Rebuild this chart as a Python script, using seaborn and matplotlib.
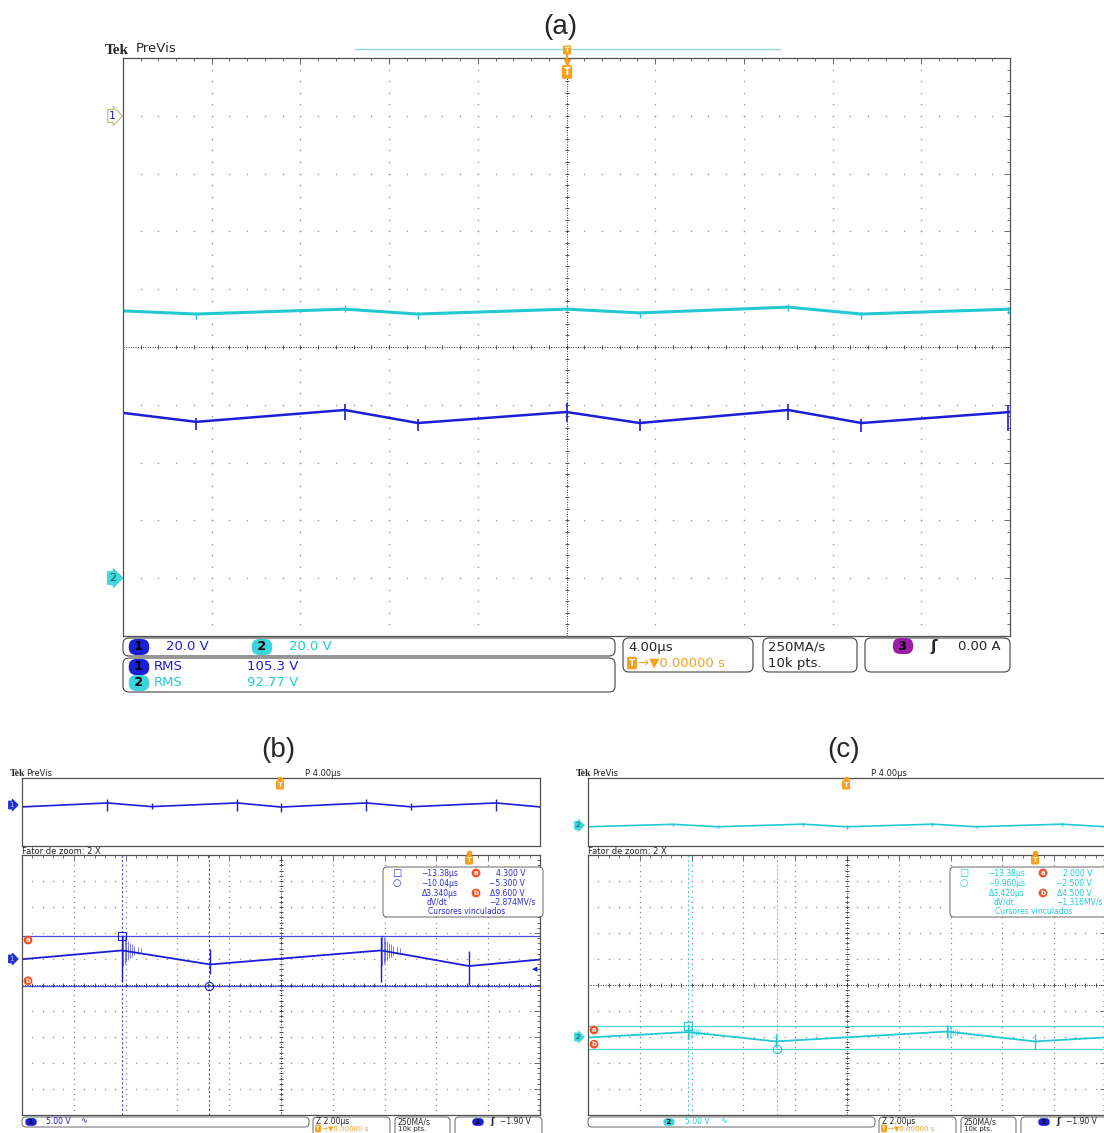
import numpy as np
import pandas as pd
import seaborn as sns
import matplotlib.pyplot as plt
from matplotlib.patches import FancyBboxPatch
from matplotlib.lines import Line2D
from matplotlib.ticker import FixedLocator

sns.set_style('white')
plt.rcParams['font.family'] = ['DejaVu Sans']

W, H = 1104, 1133

# ---------------- (a) 4.00us/div, 20 V/div ----------------
a_t = [-20.0, -16.7, -10.0, -6.7, 0.0, 3.3, 10.0, 13.3, 20.0]
a_ch1 = [-102.8, -105.9, -101.8, -106.3, -102.5, -106.3, -101.8, -106.3, -102.5]
a_ch2 = [92.5, 91.4, 93.1, 91.4, 93.1, 91.8, 93.8, 91.4, 93.1]
a_spk_t = [-16.7, -10.0, -6.7, 0.0, 3.3, 10.0, 13.3, 19.9]
a_spk1_top = [-104.5, -99.7, -105.0, -99.5, -105.0, -99.7, -105.0, -100.0]
a_spk1_bot = [-108.7, -105.3, -109.0, -106.0, -109.0, -105.3, -109.3, -109.0]
a_spk2_top = [92.0, 94.5, 92.0, 94.5, 92.5, 95.0, 92.0, 94.0]
a_spk2_bot = [89.8, 92.0, 89.8, 92.0, 90.0, 92.5, 89.8, 91.5]
a_off1, a_off2 = 4.0, -4.0      # ground markers (div)
a_scale = 20.0

# ---------------- (b) ch1 and (c) ch2, 5.00 V/div, zoom 2.00us/div ----------------
zoom_tc = -7.26                  # centre of the zoom window (us)
b_t = [-20.0, -13.4, -10.0, -3.4, 0.0, 6.6, 10.0, 16.6, 20.0]
b_ch1 = [-1.4, 1.5, -1.2, 1.5, -1.5, 1.5, -1.3, 1.5, -1.4]
b_spk_t = [-13.4, -10.0, -3.4, 0.0, 6.6, 10.0, 16.6]
b_spk_top = [4.3, 1.7, 4.1, 1.3, 4.2, 1.5, 4.2]
b_spk_bot = [-4.6, -3.1, -4.6, -5.2, -4.5, -3.5, -4.5]
b_ring_dt = [0.05, 0.1, 0.16, 0.22, 0.3, 0.38, 0.48, 0.6, 0.75]
b_ring_amp = [3.0, 2.6, 2.2, 1.8, 1.5, 1.2, 0.9, 0.6, 0.4]
b_off = 1.03
b_cur_t = [-13.38, -10.04]
b_cur_v = [4.3, -5.3]

c_ch2 = [-1.0, 0.8, -1.0, 0.9, -1.0, 0.9, -1.0, 0.9, -1.0]
c_spk_top = [2.1, 0.4, 2.1, 0.5, 2.0, 0.4, 2.0]
c_spk_bot = [-0.6, -2.1, -0.4, -2.4, -0.5, -2.0, -0.5]
c_ring_amp = [1.3, 1.1, 0.9, 0.75, 0.6, 0.5, 0.4, 0.3, 0.2]
c_off = -1.97
c_cur_t = [-13.38, -9.96]
c_cur_v = [2.0, -2.5]
bc_scale = 5.0

b_readout = [['−13.38µs', '4.300 V'], ['−10.04µs', '−5.300 V'], ['Δ3.340µs', 'Δ9.600 V'], ['dV/dt', '−2.874MV/s']]
c_readout = [['−13.38µs', '2.000 V'], ['−9.960µs', '−2.500 V'], ['Δ3.420µs', 'Δ4.500 V'], ['dV/dt', '−1.316MV/s']]

BLUE = '#1c1ed6'
CYAN = '#22c8d2'
CYAN_T = '#20ccd6'
ORANGE = '#f5a01e'
RED_OR = '#f0522a'
GRIDC = '#8c8c8c'
FRAME = '#505050'

fig = plt.figure(figsize=(W / 100, H / 100), dpi=100)


def fx(x):
    return x / W


def fy(y):
    return 1 - y / H


def ftext(x, y, s, **kw):
    kw.setdefault('va', 'center')
    return fig.text(fx(x), fy(y), s, **kw)


def rbox(x0, y0, x1, y1, r=6, ec='#444444', lw=0.8, fc='white'):
    p = FancyBboxPatch((x0 / 100, (H - y1) / 100), (x1 - x0) / 100, (y1 - y0) / 100,
                       boxstyle=f'round,pad=0,rounding_size={r / 100}',
                       transform=fig.dpi_scale_trans, fc=fc, ec=ec, lw=lw, zorder=2)
    fig.add_artist(p)


def pill(x, y, s, fc, fs, tc='black'):
    ftext(x, y, s, ha='center', fontsize=fs, color=tc, fontweight='bold', zorder=4,
          bbox=dict(boxstyle='round,pad=0.12,rounding_size=0.6', fc=fc, ec='none'))


def ch_marker(x, y, s, fc, tc, ec, fs):
    ftext(x, y, s, ha='right', fontsize=fs, color=tc, zorder=4,
          bbox=dict(boxstyle='rarrow,pad=0.12', fc=fc, ec=ec, lw=0.8))


def trig(x, y, fs):
    ftext(x, y, 'T', ha='center', fontsize=fs, color='white', fontweight='bold', zorder=4,
          bbox=dict(boxstyle='round,pad=0.12', fc=ORANGE, ec=ORANGE))


def scope_axes(x0, y0, x1, y1, xlim, grid=True):
    ax = fig.add_axes([fx(x0), fy(y1), (x1 - x0) / W, (y1 - y0) / H])
    ax.set_xlim(xlim)
    ax.set_ylim(-5, 5)
    for s in ax.spines.values():
        s.set_color(FRAME)
        s.set_linewidth(0.9)
    ax.set_xticklabels([])
    ax.set_yticklabels([])
    if not grid:
        ax.set_xticks([])
        ax.set_yticks([])
        return ax
    xmaj = np.linspace(xlim[0], xlim[1], 11)
    xmin = np.linspace(xlim[0], xlim[1], 51)
    ymaj = np.linspace(-5, 5, 11)
    ymin = np.linspace(-5, 5, 51)
    ax.xaxis.set_major_locator(FixedLocator(xmaj))
    ax.xaxis.set_minor_locator(FixedLocator(xmin))
    ax.yaxis.set_major_locator(FixedLocator(ymaj))
    ax.yaxis.set_minor_locator(FixedLocator(ymin))
    ax.tick_params(which='both', direction='in', top=True, right=True,
                   color=FRAME, width=0.6, labelbottom=False, labelleft=False)
    ax.tick_params(which='major', length=4)
    ax.tick_params(which='minor', length=2.5)
    xc = xmaj[5]
    for xg in xmaj[1:-1]:
        if xg == xc:
            continue
        ax.plot([xg] * 49, ymin[1:-1], ls='none', marker='s', ms=0.9, mew=0, color=GRIDC)
    for yg in ymaj[1:-1]:
        if yg == 0:
            continue
        ax.plot(xmin[1:-1], [yg] * 49, ls='none', marker='s', ms=0.9, mew=0, color=GRIDC)
    ax.axvline(xc, color='#333333', lw=0.7, ls=(0, (1, 1.5)))
    ax.axhline(0, color='#333333', lw=0.7, ls=(0, (1, 1.5)))
    ax.plot(xmin[1:-1], [0] * 49, ls='none', marker='|', ms=3.5, mew=0.6, color='#333333')
    ax.plot([xc] * 49, ymin[1:-1], ls='none', marker='_', ms=3.5, mew=0.6, color='#333333')
    return ax


def trace(ax, t, v, scale, off, color, lw):
    df = pd.DataFrame({'t': t, 'y': np.asarray(v) / scale + off})
    sns.lineplot(data=df, x='t', y='y', ax=ax, color=color, lw=lw,
                 estimator=None, sort=False, legend=False)
    ax.set_xlabel('')
    ax.set_ylabel('')


def spikes(ax, t, top, bot, scale, off, color, lw=1.0):
    ax.vlines(t, np.asarray(bot) / scale + off, np.asarray(top) / scale + off, color=color, lw=lw)


def ringing(ax, peaks, base, amps, scale, off, color):
    for p in peaks:
        for dt, a in zip(b_ring_dt, amps):
            ax.vlines(p + dt, (base - a) / scale + off, (base + a) / scale + off,
                      color=color, lw=0.5, alpha=0.8)


# ================= (a) =================
ftext(560, 27, '(a)', ha='center', fontsize=20, family='Liberation Sans')
ftext(105, 50, 'Tek', fontsize=11, fontweight='bold', family='Liberation Serif')
ftext(136, 49, 'PreVis', fontsize=9.5)
fig.add_artist(Line2D([fx(355), fx(780)], [fy(49), fy(49)], transform=fig.transFigure,
                      color='#8fdadd', lw=1.0))

ax_a = scope_axes(123, 58, 1010, 636, (-20, 20))
trace(ax_a, a_t, a_ch2, a_scale, a_off2, CYAN, 2.2)
spikes(ax_a, a_spk_t, a_spk2_top, a_spk2_bot, a_scale, a_off2, CYAN)
trace(ax_a, a_t, a_ch1, a_scale, a_off1, BLUE, 1.8)
spikes(ax_a, a_spk_t, a_spk1_top, a_spk1_bot, a_scale, a_off1, BLUE, 1.2)

fig.add_artist(Line2D([fx(567), fx(567)], [fy(54), fy(62)], transform=fig.transFigure,
                      color=ORANGE, lw=1.5, marker='v', markevery=[1], ms=5))
trig(567, 50, 5)
trig(567, 72, 7)
ch_marker(116, 116, '1', 'white', BLUE, '#c0b868', 8)
ch_marker(116, 578, '2', '#3fd6dc', '#0a5a60', '#3fd6dc', 8)

# info boxes (a)
rbox(123, 638, 615, 656)
pill(139, 647, ' 1 ', BLUE, 9)
ftext(166, 647, '20.0 V', fontsize=9.5, color=BLUE)
pill(262, 647, ' 2 ', '#3cd4dc', 9)
ftext(289, 647, '20.0 V', fontsize=9.5, color=CYAN_T)
rbox(123, 658, 615, 692)
pill(139, 667, ' 1 ', BLUE, 9)
ftext(154, 667, 'RMS', fontsize=9.5, color=BLUE)
ftext(247, 667, '105.3 V', fontsize=9.5, color=BLUE)
pill(139, 683, ' 2 ', '#3cd4dc', 9)
ftext(154, 683, 'RMS', fontsize=9.5, color=CYAN_T)
ftext(247, 683, '92.77 V', fontsize=9.5, color=CYAN_T)
rbox(623, 638, 753, 672)
ftext(628, 647, '4.00µs', fontsize=9.5)
trig(632, 663, 6.5)
ftext(638, 663, '→▼0.00000 s', fontsize=9.5, color=ORANGE)
rbox(763, 638, 857, 672)
ftext(768, 647, '250MA/s', fontsize=9.5)
ftext(768, 663, '10k pts.', fontsize=9.5)
rbox(865, 638, 1010, 672)
pill(903, 646, ' 3 ', '#9c1ca8', 9)
ftext(930, 647, 'ʃ', fontsize=11, fontweight='bold')
ftext(958, 647, '0.00 A', fontsize=9.5)


# ================= (b) and (c) =================
def zoom_panel(x0, label, ch, color, txtc, vals, off, spk_top, spk_bot, ring_amp,
               cur_t, cur_v, readout, chfc, chtc, rd_x):
    x1 = x0 + 518
    ftext(x0 + 256, 750, label, ha='center', fontsize=20, family='Liberation Sans')
    ftext(x0 - 12, 773, 'Tek', fontsize=7, fontweight='bold', family='Liberation Serif')
    ftext(x0 + 4, 773, 'PreVis', fontsize=6)
    ftext(x0 + 283, 773, 'P 4.00µs', fontsize=6)
    ftext(x0, 851, 'Fator de zoom: 2 X', fontsize=6)

    ov = scope_axes(x0, 778, x1, 846, (-20, 20), grid=False)
    trace(ov, b_t, vals, bc_scale, off, color, 1.2)
    spikes(ov, b_spk_t, spk_top, spk_bot, bc_scale, off, color, 1.0)
    fig.add_artist(Line2D([fx(x0 + 258)], [fy(779)], transform=fig.transFigure,
                          color=ORANGE, marker='o', ms=3, ls='none'))
    trig(x0 + 258, 785, 5)
    ch_marker(x0 - 8, 812 - off * 6.8, ch, chfc, chtc, chfc, 5)

    ax = scope_axes(x0, 855, x1, 1115, (zoom_tc - 10, zoom_tc + 10))
    trace(ax, b_t, vals, bc_scale, off, color, 1.3)
    spikes(ax, b_spk_t, spk_top, spk_bot, bc_scale, off, color, 1.0)
    ringing(ax, b_spk_t[::2], vals[1], ring_amp, bc_scale, off, color)
    for t in cur_t:
        ax.axvline(t, color=color, lw=0.8, ls=(0, (2, 2)), alpha=0.8)
    ya = cur_v[0] / bc_scale + off
    yb = cur_v[1] / bc_scale + off
    ax.axhline(ya, color=color, lw=0.9, alpha=0.8)
    ax.axhline(yb, color=color, lw=0.9, alpha=0.8)
    ax.plot([cur_t[0]], [ya], marker='s', ms=6, mfc='none', mec=color, mew=0.8, ls='none')
    ax.plot([cur_t[1]], [yb], marker='o', ms=6, mfc='none', mec=color, mew=0.8, ls='none')
    for yv, s, dy in [(ya, 'a', -3), (yb, 'b', 3.6)]:
        ax.annotate(s, xy=(6 / 518, yv), xycoords=('axes fraction', 'data'), xytext=(0, dy),
                    textcoords='offset points', ha='center', va='center', fontsize=5,
                    color='white', fontweight='bold', annotation_clip=False,
                    bbox=dict(boxstyle='circle,pad=0.2', fc=RED_OR, ec='none'))
    ch_marker(x0 - 8, 985.7 - off * 26, ch, chfc, chtc, chfc, 5)
    tx = x0 + 259 + (0 - zoom_tc) / 2 * 51.8
    fig.add_artist(Line2D([fx(tx)], [fy(853)], transform=fig.transFigure,
                          color=ORANGE, marker='o', ms=3, ls='none'))
    trig(tx, 860, 5)

    # cursor readout box
    bx = x0 + rd_x
    rbox(bx, 867, bx + 160, 917, r=4, ec='#666666', lw=0.7)
    ftext(bx + 14, 873, '□', ha='center', fontsize=7, color=txtc, zorder=5)
    ftext(bx + 14, 883, '○', ha='center', fontsize=7, color=txtc, zorder=5)
    rows_y = [873, 883, 893]
    for i in range(3):
        ftext(bx + 75, rows_y[i], readout[i][0], ha='right', fontsize=5.5, color=txtc, zorder=5)
        ftext(bx + 142, rows_y[i], readout[i][1], ha='right', fontsize=5.5, color=txtc, zorder=5)
    for s, yy in [('a', 873), ('b', 893)]:
        ftext(bx + 93, yy, s, ha='center', fontsize=5, color='white', fontweight='bold', zorder=5,
              bbox=dict(boxstyle='circle,pad=0.2', fc=RED_OR, ec='none'))
    ftext(bx + 54, 902, readout[3][0], ha='center', fontsize=5.5, color=txtc, zorder=5)
    ftext(bx + 153, 902, readout[3][1], ha='right', fontsize=5.5, color=txtc, zorder=5)
    ftext(bx + 84, 912, 'Cursores vinculados', ha='center', fontsize=5.5, color=txtc, zorder=5)

    # bottom bars
    rbox(x0, 1117, x0 + 287, 1127, r=4, ec='#666666', lw=0.7)
    rbox(x0 + 291, 1117, x0 + 368, 1145, r=4, ec='#666666', lw=0.7)
    rbox(x0 + 373, 1117, x0 + 428, 1145, r=4, ec='#666666', lw=0.7)
    rbox(x0 + 433, 1117, x0 + 520, 1145, r=4, ec='#666666', lw=0.7)
    ftext(x0 + 294, 1122, 'Z 2.00µs', fontsize=5.5)
    trig(x0 + 296, 1128.5, 3.5)
    ftext(x0 + 300, 1128.5, '→▼0.00000 s', fontsize=5, color=ORANGE)
    ftext(x0 + 376, 1122, '250MA/s', fontsize=5.5)
    ftext(x0 + 376, 1128.5, '10k pts.', fontsize=5)
    pill(x0 + 456, 1122, ' 1 ', BLUE, 5)
    ftext(x0 + 468, 1122, 'ʃ', fontsize=6.5, fontweight='bold')
    ftext(x0 + 478, 1122, '−1.90 V', fontsize=5.5)
    return ax


ax_b = zoom_panel(22, '(b)', '1', BLUE, '#2a2ee0', b_ch1, b_off, b_spk_top, b_spk_bot,
                  b_ring_amp, b_cur_t, b_cur_v, b_readout, '#2030d0', '#c8ccff', 361)
pill(31, 1122, ' 1 ', BLUE, 5)
ftext(46, 1122, '5.00 V', fontsize=5.5, color=BLUE)
ftext(80, 1121, '∿', fontsize=6, color=BLUE)
ftext(537, 969, '◀', ha='right', fontsize=5, color=BLUE)

ax_c = zoom_panel(588, '(c)', '2', CYAN, CYAN_T, c_ch2, c_off, c_spk_top, c_spk_bot,
                  c_ring_amp, c_cur_t, c_cur_v, c_readout, '#3cd4dc', '#0a5a60', 362)
pill(669, 1122, ' 2 ', '#3cd4dc', 5)
ftext(685, 1122, '5.00 V', fontsize=5.5, color=CYAN_T)
ftext(720, 1121, '∿', fontsize=6, color=CYAN_T)

fig.savefig('out.png', dpi=100)
